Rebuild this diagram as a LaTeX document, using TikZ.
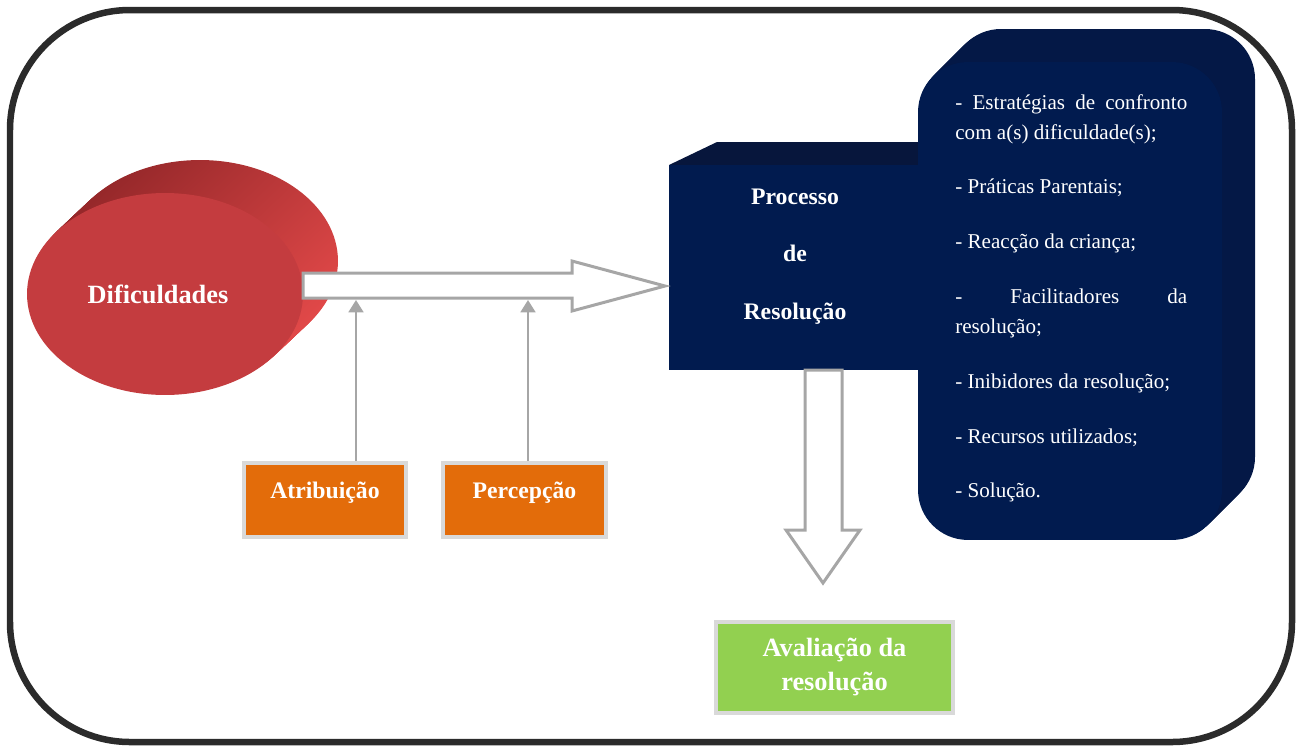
\documentclass[tikz,border=0pt]{standalone}
\usepackage{fontspec}
\setmainfont{Liberation Serif}
\usetikzlibrary{arrows.meta,shapes.geometric}
\definecolor{framegray}{RGB}{43,43,43}
\definecolor{navyfront}{RGB}{1,27,79}
\definecolor{navyside}{RGB}{4,24,70}
\definecolor{navytop}{RGB}{7,22,60}
\definecolor{redfront}{RGB}{196,60,63}
\definecolor{reddark}{RGB}{150,40,42}
\definecolor{redlight}{RGB}{224,72,72}
\definecolor{boxorange}{RGB}{227,108,10}
\definecolor{boxgreen}{RGB}{146,208,80}
\definecolor{rimgray}{RGB}{217,217,217}
\definecolor{arrgray}{RGB}{166,166,166}

\begin{document}
\begin{tikzpicture}[x=0.02cm,y=-0.02cm,
            boldtxt/.style={text=white,font=\fontsize{13.5pt}{16pt}\selectfont\bfseries},
            factor/.style={draw=rimgray,line width=0.08cm,fill=boxorange,minimum width=3.24cm,
                minimum height=1.48cm,inner sep=0,text depth=11pt,boldtxt},
            hollow/.style={draw=arrgray,line width=0.06cm,fill=white,line join=miter},
            feed/.style={draw=arrgray,line width=0.04cm,-{Triangle[width=8.5pt,length=7pt]}}
            ]
            \useasboundingbox (0,0) rectangle (1299,745);
            % moldura
            \draw[framegray,line width=0.13cm,rounded corners=2.4cm] (10,10) rectangle (1292,742);

            % processo de resolucao
            \fill[navytop] (669,165) -- (717,142) -- (940,142) -- (921,165) -- cycle;
            \node[fill=navyfront,minimum width=5.04cm,minimum height=4.1cm,inner sep=0,
                align=center,boldtxt,text depth=15.5pt] (proc) at (795,267.5)
                {Processo\\[16.8pt]de\\[16.8pt]Resolução};

            % painel da direita
            \foreach \i in {33,32,...,1}
                \fill[navyside,rounded corners=1cm] (918+\i,62-\i) rectangle (1222+\i,540-\i);
            \node[fill=navyfront,rounded corners=1cm,minimum width=6.08cm,minimum height=9.56cm,
                inner sep=0] (panel) at (1070,301) {};
            \node[anchor=north west,inner sep=0,text width=4.64cm,align=justify,text=white,
                font=\fontsize{12pt}{17pt}\selectfont] (lst) at (955,94)
                {- Estratégias de confronto\linebreak com a(s) dificuldade(s);\\[14.2pt]
                 - Práticas Parentais;\\[14.2pt]
                 - Reacção da criança;\\[14.2pt]
                 - Facilitadores da\linebreak resolução;\\[14.2pt]
                 - Inibidores da resolução;\\[14.2pt]
                 - Recursos utilizados;\\[14.2pt]
                 - Solução.};

            % dificuldades
            \foreach \i in {20,19,...,1}
                \shade[top color=reddark,bottom color=redlight,shading angle=45]
                    (165+1.75*\i,294-1.65*\i) ellipse [x radius=2.76cm,y radius=2.02cm];
            \node[ellipse,fill=redfront,minimum width=5.52cm,minimum height=4.04cm,inner sep=0,
                boldtxt,font=\fontsize{15pt}{18pt}\selectfont\bfseries] (dif) at (165,294)
                {\hspace*{-0.28cm}Dificuldades};

            % setas
            \draw[hollow] (303,273) -- (572,273) -- (572,261) -- (665,286) -- (572,311)
                -- (572,298) -- (303,298) -- cycle;
            \draw[hollow] (805,370) -- (805,530) -- (786,530) -- (823,583) -- (860,530)
                -- (842,530) -- (842,370) -- cycle;

            \node[factor] (atr) at (325,500) {Atribuição};
            \node[factor,minimum width=3.26cm] (per) at (524.5,500) {Percepção};
            \draw[feed] ([xshift=0.62cm]atr.north) -- ++(0,-161);
            \draw[feed] ([xshift=0.07cm]per.north) -- ++(0,-161);

            \node[draw=rimgray,line width=0.08cm,fill=boxgreen,minimum width=4.74cm,minimum height=1.82cm,
                inner sep=0,align=center,text=white,font=\fontsize{15pt}{18pt}\selectfont\bfseries]
                (aval) at (834.5,667) {Avaliação da\\[1.8pt]resolução};
        \end{tikzpicture}
\end{document}
